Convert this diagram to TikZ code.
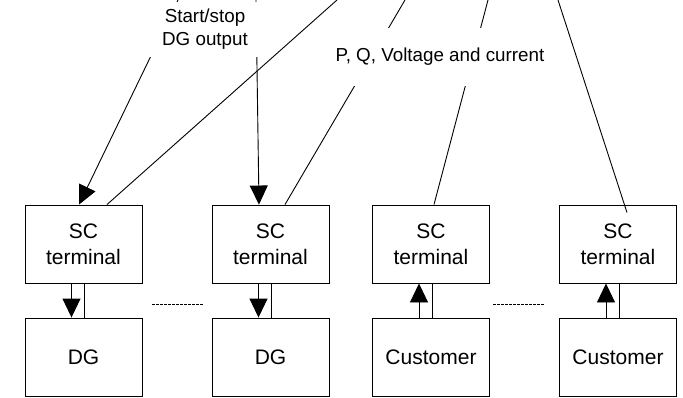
\documentclass[tikz,border=0pt]{standalone}
\usepackage{fontspec}
\setmainfont{Liberation Sans}
\usetikzlibrary{arrows.meta,calc}

\begin{document}
\begin{tikzpicture}[x=1pt,y=-1pt,line width=0.9pt,
  unit/.style={draw,minimum width=117pt,minimum height=78pt,inner sep=0pt,
    align=center,font=\fontsize{21}{26}\selectfont},
  lbl/.style={fill=white,inner sep=0pt,align=center,
    font=\fontsize{18.8}{23}\selectfont},
  big/.style={-{Triangle[length=19pt,width=18pt]}},
  gap/.style={dash pattern=on 3pt off 1pt,line width=0.7pt}]
\useasboundingbox (0,0) rectangle (683,398);
% terminals and units
\node[unit] (sc1) at (83.5,244) {SC\\terminal};
\node[unit] (dg1) at (83.5,357) {DG};
\node[unit] (sc2) at (270.5,244) {SC\\terminal};
\node[unit] (dg2) at (270.5,357) {DG};
\node[unit] (sc3) at (431,244) {SC\\terminal};
\node[unit] (cu3) at (431,357) {Customer};
\node[unit] (sc4) at (618,244) {SC\\terminal};
\node[unit] (cu4) at (618,357) {Customer};
% links between terminal and unit
\draw[big] ([xshift=-12pt]sc1.south) -- ([xshift=-12pt]dg1.north);
\draw ([xshift=1pt]sc1.south) -- ([xshift=1pt]dg1.north);
\draw[big] ([xshift=-12pt]sc2.south) -- ([xshift=-12pt]dg2.north);
\draw ([xshift=1pt]sc2.south) -- ([xshift=1pt]dg2.north);
\draw[big] ([xshift=-12pt]cu3.north) -- ([xshift=-12pt]sc3.south);
\draw ([xshift=1pt]cu3.north) -- ([xshift=1pt]sc3.south);
\draw[big] ([xshift=-12pt]cu4.north) -- ([xshift=-12pt]sc4.south);
\draw ([xshift=1pt]cu4.north) -- ([xshift=1pt]sc4.south);
% more units in between
\coordinate (d1a) at (152,304);
\coordinate (d1b) at (203,304);
\coordinate (d2a) at (493,304);
\coordinate (d2b) at (545,304);
\draw[gap] (d1a) -- (d1b);
\draw[gap] (d2a) -- (d2b);
% lines from above
\coordinate (t1) at (178,0);
\coordinate (t2) at (256,0);
\coordinate (u1) at (337,0);
\coordinate (u2) at (405,0);
\coordinate (u3) at (488,0);
\coordinate (u4) at (558,0);
\draw[big] (t1) -- ($(sc1.north)+(-4.5,0)$);
\draw[big] (t2) -- ($(sc2.north)+(-11.5,0)$);
\draw ($(sc1.north)+(23.5,0)$) -- (u1);
\draw ($(sc2.north)+(14.5,0)$) -- (u2);
\draw ($(sc3.north)+(3,0)$) -- (u3);
\draw ($(sc4.north)+(9,8)$) -- (u4);
% labels
\node[lbl,minimum width=118pt,minimum height=55pt] (cmd) at (205,29.5)
  {Start/stop\\DG output};
\node[lbl,minimum width=224pt,minimum height=58pt] (meas) at (440,57)
  {P, Q, Voltage and current};
\end{tikzpicture}
\end{document}
